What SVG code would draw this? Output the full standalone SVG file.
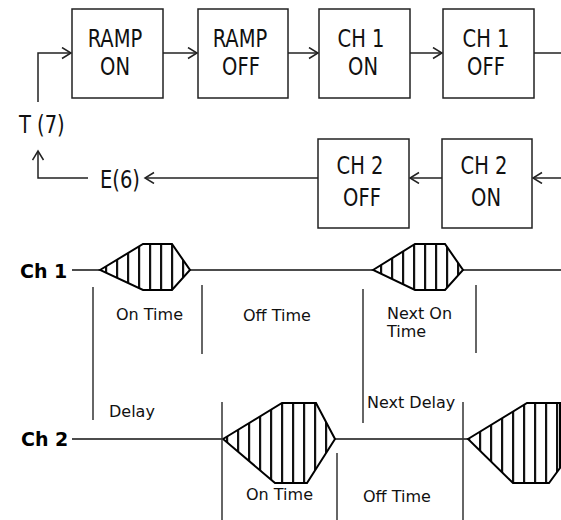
<svg xmlns="http://www.w3.org/2000/svg" width="561" height="520" viewBox="0 0 561 520">
<style>
.box{fill:#fff;stroke:#222;stroke-width:1.5}
.big{font-family:"DejaVu Sans Condensed","DejaVu Sans",sans-serif;font-size:25.5px;fill:#111;text-anchor:middle}
.bigl{font-family:"DejaVu Sans Condensed","DejaVu Sans",sans-serif;font-size:25.5px;fill:#111}
.lbl{font-family:"DejaVu Sans",sans-serif;font-size:16px;fill:#111}
.ch{font-family:"DejaVu Sans",sans-serif;font-size:19px;font-weight:bold;fill:#000}
.con{fill:none;stroke:#222;stroke-width:1.5}
.mark{stroke:#333;stroke-width:1.5}
.axis{stroke:#111;stroke-width:1.5}
.wave{fill:url(#hatch);stroke:#000;stroke-width:2;stroke-linejoin:miter}
</style>
<defs>
<marker id="arr" markerUnits="userSpaceOnUse" markerWidth="12" markerHeight="14" refX="10" refY="6" orient="auto">
<path d="M1,0.5 L10,6 L1,11.5" fill="none" stroke="#222" stroke-width="1.5"/>
</marker>
<pattern id="hatch" patternUnits="userSpaceOnUse" width="11" height="11" x="2">
<rect width="11" height="11" fill="#fff"/>
<rect x="4" width="2.2" height="11" fill="#111"/>
</pattern>
</defs>

<g id="connectors">
<path class="con" d="M38,102 V53 H71" marker-end="url(#arr)"/>
<path class="con" d="M163,53 H197" marker-end="url(#arr)"/>
<path class="con" d="M288,53 H318" marker-end="url(#arr)"/>
<path class="con" d="M410,53 H442" marker-end="url(#arr)"/>
<path class="con" d="M534,53 H561"/>
<path class="con" d="M561,178 H533" marker-end="url(#arr)"/>
<path class="con" d="M442,178 H410" marker-end="url(#arr)"/>
<path class="con" d="M318,178 H145" marker-end="url(#arr)"/>
<path class="con" d="M88,178 H38 V151" marker-end="url(#arr)"/>
</g>

<g id="ramp-on"><rect class="box" x="72" y="9" width="91" height="89"/><text class="big" transform="translate(115,47) scale(0.85,1)">RAMP</text><text class="big" transform="translate(115,75) scale(0.85,1)">ON</text></g>
<g id="ramp-off"><rect class="box" x="198" y="9" width="90" height="89"/><text class="big" transform="translate(240,47) scale(0.85,1)">RAMP</text><text class="big" transform="translate(241,75) scale(0.85,1)">OFF</text></g>
<g id="ch1-on"><rect class="box" x="319" y="9" width="91" height="89"/><text class="big" transform="translate(361,47) scale(0.85,1)">CH 1</text><text class="big" transform="translate(363,75) scale(0.85,1)">ON</text></g>
<g id="ch1-off"><rect class="box" x="443" y="9" width="91" height="89"/><text class="big" transform="translate(486,47) scale(0.85,1)">CH 1</text><text class="big" transform="translate(486,75) scale(0.85,1)">OFF</text></g>
<g id="ch2-off"><rect class="box" x="318" y="139" width="91" height="89"/><text class="big" transform="translate(360,174) scale(0.85,1)">CH 2</text><text class="big" transform="translate(362,206) scale(0.85,1)">OFF</text></g>
<g id="ch2-on"><rect class="box" x="442" y="139" width="90" height="89"/><text class="big" transform="translate(484,174) scale(0.85,1)">CH 2</text><text class="big" transform="translate(486,206) scale(0.85,1)">ON</text></g>
<g id="t7"><text class="bigl" transform="translate(19,133) scale(0.85,1)">T (7)</text></g>
<g id="e6"><text class="bigl" transform="translate(100,188) scale(0.85,1)">E(6)</text></g>

<g id="timing">
<text class="ch" x="20" y="278">Ch 1</text>
<text class="ch" x="21" y="446">Ch 2</text>
<line class="axis" x1="72" y1="270" x2="561" y2="270"/>
<line class="axis" x1="72" y1="439" x2="468" y2="439"/>
<polygon class="wave" points="100,270 143,244 172,244 190,270 172,290 143,290"/>
<polygon class="wave" points="373,270 415,244 445,244 463,270 445,290 415,290"/>
<polygon class="wave" points="223,439 282,403 316,403 335,439 307,483 275,483"/>
<polygon class="wave" points="468,439 527,403 560,403 560,468 549,483 513,483"/>
<line class="mark" x1="93" y1="287" x2="93" y2="420"/>
<line class="mark" x1="202" y1="285" x2="202" y2="354"/>
<line class="mark" x1="363" y1="289" x2="363" y2="423"/>
<line class="mark" x1="476" y1="285" x2="476" y2="353"/>
<line class="mark" x1="222" y1="402" x2="222" y2="520"/>
<line class="mark" x1="337" y1="453" x2="337" y2="520"/>
<line class="mark" x1="463" y1="402" x2="463" y2="520"/>
<text class="lbl" x="116" y="320">On Time</text>
<text class="lbl" x="243" y="321">Off Time</text>
<text class="lbl" x="387" y="319">Next On</text>
<text class="lbl" x="387" y="337">Time</text>
<text class="lbl" x="109" y="417">Delay</text>
<text class="lbl" x="367" y="408">Next Delay</text>
<text class="lbl" x="246" y="500">On Time</text>
<text class="lbl" x="363" y="502">Off Time</text>
</g>
</svg>
